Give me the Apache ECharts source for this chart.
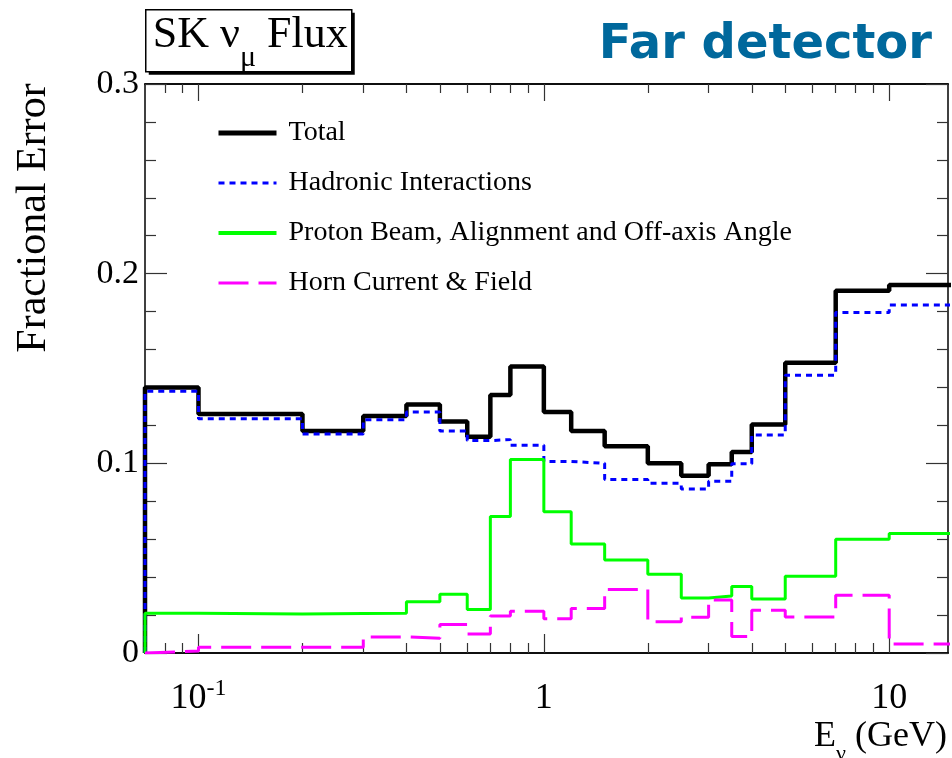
<!DOCTYPE html>
<html><head><meta charset="utf-8">
<script src="https://cdn.jsdelivr.net/npm/echarts@6/dist/echarts.min.js"></script>
<style>html,body{margin:0;padding:0;background:#fff}#c{width:952px;height:758px}</style>
</head><body><div id="c"></div>
<script>
// ---- data ----
const binEdges = [0.07, 0.1, 0.2, 0.3, 0.4, 0.5, 0.6, 0.7, 0.8, 1.0, 1.2, 1.5, 2.0, 2.5, 3.0, 3.5, 4.0, 5.0, 7.0, 10.0, 20.0];
const totalErr      = [0.140, 0.126, 0.117, 0.125, 0.131, 0.122, 0.114, 0.136, 0.151, 0.127, 0.117, 0.109, 0.100, 0.0935, 0.0995, 0.106, 0.1205, 0.153, 0.191, 0.194];
const hadronicErr   = [0.138, 0.1235, 0.1155, 0.123, 0.127, 0.117, 0.112, 0.1125, 0.1095, 0.101, 0.100, 0.0915, 0.0895, 0.0865, 0.0905, 0.0998, 0.115, 0.1465, 0.1795, 0.1835];
const protonBeamErr = [0.021, 0.0205, 0.0208, 0.021, 0.027, 0.031, 0.023, 0.072, 0.102, 0.0745, 0.0575, 0.049, 0.0415, 0.029, 0.030, 0.035, 0.0285, 0.0405, 0.060, 0.063];
const hornErr       = [0.001, 0.003, 0.003, 0.0085, 0.0078, 0.015, 0.010, 0.0195, 0.022, 0.018, 0.0235, 0.0335, 0.0165, 0.0188, 0.028, 0.0087, 0.0225, 0.019, 0.0305, 0.0047];
const seriesNames = ['Total', 'Hadronic Interactions', 'Proton Beam, Alignment and Off-axis Angle', 'Horn Current & Field'];
const xRange = [0.07, 14.8];
const yRange = [0, 0.3];
const xMajorTicks = [0.1, 1, 10];
const xMinorTicks = [0.08, 0.09, 0.2, 0.3, 0.4, 0.5, 0.6, 0.7, 0.8, 0.9, 2, 3, 4, 5, 6, 7, 8, 9];

// ---- build ----
function stepData(values) {
  const pts = [[binEdges[0], 0]];
  values.forEach((v, i) => pts.push([binEdges[i], v]));
  pts.push([binEdges[values.length], values[values.length - 1]]);
  return pts;
}
const serif = '"Liberation Serif", "Times New Roman", serif';
const frame = { color: '#000', width: 1.5 };
const tickStyle = { color: '#333', width: 1.2 };
const styles = [
  { color: '#000000', width: 4.5, type: 'solid', legendWidth: 5 },
  { color: '#0000ff', width: 3, type: [6, 5], legendWidth: 3 },
  { color: '#00ff00', width: 3, type: 'solid', legendWidth: 4 },
  { color: '#ff00ff', width: 3, type: [30, 10], legendWidth: 3 }
];

function xAx(pos, ticks, len, withLabels) {
  return {
    type: 'log', logBase: 10, min: xRange[0], max: xRange[1], position: pos, offset: 0,
    axisLine: { show: true, onZero: false, lineStyle: frame },
    axisTick: { show: true, inside: true, length: len, customValues: ticks, lineStyle: tickStyle },
    axisLabel: withLabels ? {
      show: true, customValues: xMajorTicks, margin: 24, color: '#000',
      fontFamily: serif, fontSize: 34,
      formatter: v => v < 0.5 ? '{n|10}{e|-1}' : (v < 5 ? '{n|1}' : '{n|10}'),
      rich: {
        n: { fontFamily: serif, fontSize: 36, color: '#000', lineHeight: 40, verticalAlign: 'bottom' },
        e: { fontFamily: serif, fontSize: 24, color: '#000', lineHeight: 40, verticalAlign: 'top' }
      }
    } : { show: false },
    splitLine: { show: false }, minorTick: { show: false }, minorSplitLine: { show: false }
  };
}
function yAx(pos, withLabels) {
  return {
    type: 'value', min: yRange[0], max: yRange[1], interval: 0.1, position: pos, offset: 0,
    axisLine: { show: true, onZero: false, lineStyle: frame },
    axisTick: { show: true, inside: true, length: 22, lineStyle: tickStyle },
    minorTick: { show: true, splitNumber: 5, length: 11, lineStyle: tickStyle },
    axisLabel: withLabels ? { show: true, margin: 6, color: '#000', fontFamily: serif, fontSize: 34 } : { show: false },
    splitLine: { show: false }, minorSplitLine: { show: false }
  };
}
function lineSeries(i, values) {
  const s = styles[i];
  return {
    name: seriesNames[i], type: 'line', xAxisIndex: 0, yAxisIndex: 0, data: stepData(values),
    step: 'end', symbol: 'none', showSymbol: false, clip: true, color: s.color,
    lineStyle: { color: s.color, width: s.width, type: s.type, cap: 'butt' }, animation: false
  };
}

const chart = echarts.init(document.getElementById('c'), null, { renderer: 'canvas' });
chart.setOption({
  backgroundColor: '#fff',
  animation: false,
  grid: { left: 145, right: 4, top: 84, bottom: 105, containLabel: false, outerBoundsMode: 'none' },
  xAxis: [
    xAx('bottom', xMajorTicks, 19, true),
    xAx('bottom', xMinorTicks, 10, false),
    xAx('top', xMajorTicks, 17, false),
    xAx('top', xMinorTicks, 9, false)
  ],
  yAxis: [yAx('left', true), yAx('right', false)],
  legend: {
    orient: 'vertical', left: 216, top: 119, itemWidth: 58, itemHeight: 24, itemGap: 22,
    selectedMode: false, padding: 0,
    itemStyle: { color: 'rgba(0,0,0,0)', borderColor: 'rgba(0,0,0,0)', borderWidth: 0, opacity: 0 },
    textStyle: { fontFamily: serif, fontSize: 28, color: '#000', lineHeight: 24, padding: [0, 0, 0, 7] },
    data: seriesNames.map((n, i) => ({
      name: n,
      lineStyle: { color: styles[i].color, width: styles[i].legendWidth, type: styles[i].type, cap: 'butt' }
    }))
  },
  series: [
    lineSeries(0, totalErr),
    lineSeries(1, hadronicErr),
    lineSeries(2, protonBeamErr),
    lineSeries(3, hornErr)
  ],
  graphic: [
    {
      type: 'group', left: 145, top: 9, children: [
        { type: 'rect', shape: { x: 3, y: 3, width: 206, height: 62 }, style: { fill: '#000' } },
        { type: 'rect', shape: { x: 0, y: 0, width: 206, height: 62 }, style: { fill: '#fff', stroke: '#000', lineWidth: 1.5 } },
        { type: 'text', x: 7, y: 4, style: {
            text: '{a|SK ν}{s|μ}{a| Flux}',
            rich: {
              a: { fontFamily: serif, fontSize: 44, fill: '#000', lineHeight: 44, verticalAlign: 'top' },
              s: { fontFamily: serif, fontSize: 30, fill: '#000', lineHeight: 59, verticalAlign: 'bottom' }
            } } }
      ]
    },
    { type: 'text', right: 20, top: 22, style: { text: 'Far detector', fontFamily: '"DejaVu Sans", sans-serif', fontWeight: 'bold', fontSize: 48, fill: '#00689c' } },
    { type: 'text', x: 34, y: 218, rotation: Math.PI / 2, style: { text: 'Fractional Error', fontFamily: serif, fontSize: 42, fill: '#000', align: 'center', verticalAlign: 'middle' } },
    { type: 'text', right: 5, top: 719, style: {
        text: '{a|E}{s|ν}{a| (GeV)}',
        rich: {
          a: { fontFamily: serif, fontSize: 36, fill: '#000', lineHeight: 36, verticalAlign: 'top' },
          s: { fontFamily: serif, fontSize: 22, fill: '#000', lineHeight: 46, verticalAlign: 'bottom' }
        } } }
  ]
});
</script>
</body></html>
